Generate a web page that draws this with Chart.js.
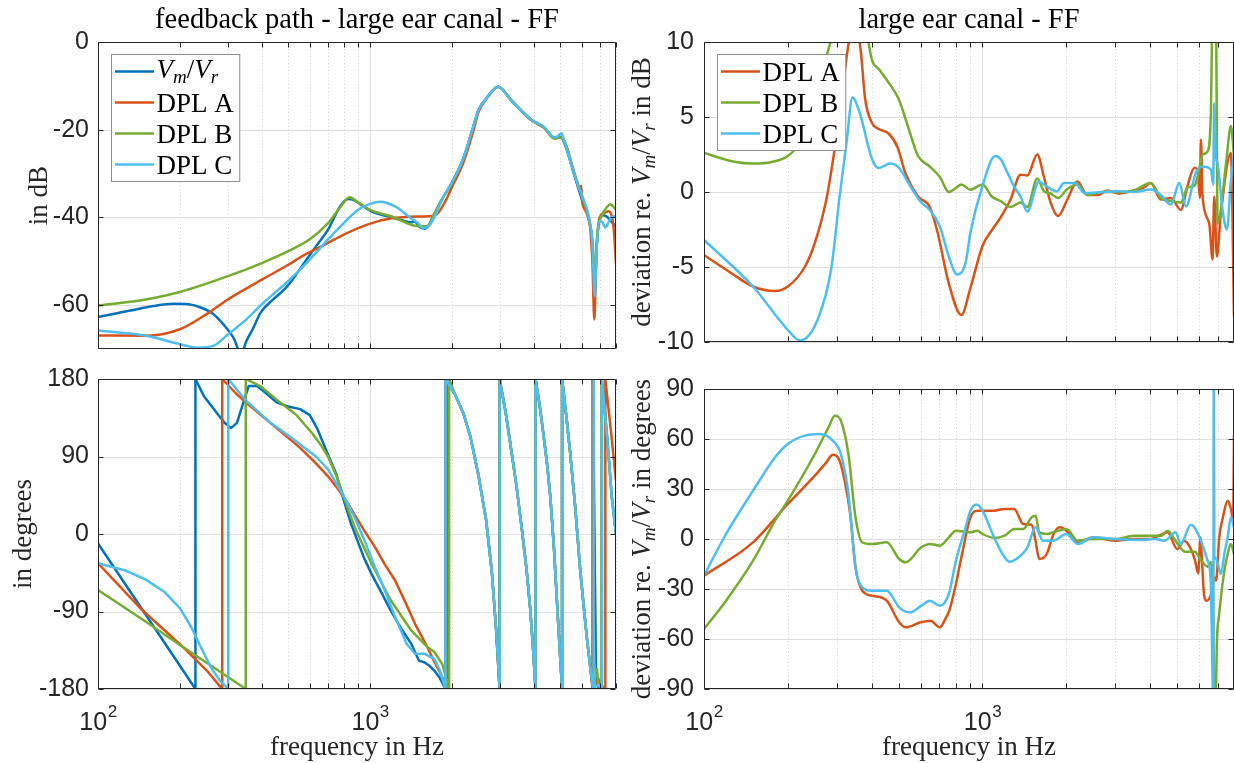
<!DOCTYPE html>
<html>
<head>
<meta charset="utf-8">
<script src="https://cdn.jsdelivr.net/npm/chart.js@4.4.1/dist/chart.umd.min.js"></script>
<style>
  html, body { margin: 0; padding: 0; background: #ffffff; }
  #figure { position: relative; width: 1234px; height: 763px; overflow: hidden; background: #ffffff; }
  #figure canvas { position: absolute; left: 0; top: 0; }
</style>
</head>
<body>
<div id="figure">
  <canvas id="magChart" width="1234" height="763"></canvas>
  <canvas id="phaseChart" width="1234" height="763"></canvas>
  <canvas id="devMagChart" width="1234" height="763"></canvas>
  <canvas id="devPhaseChart" width="1234" height="763"></canvas>
</div>
<script>
// ---------- frequency axis ----------
const freqMin = 100;
const freqMax = 8000;
const freqTicks = [100, 200, 300, 400, 500, 600, 700, 800, 900, 1000, 2000, 3000, 4000, 5000, 6000, 7000, 8000];
const freqDecades = [100, 1000];

// ---------- y ticks ----------
const magTicks = [-60, -40, -20, 0];
const phaseTicks = [-180, -90, 0, 90, 180];
const devMagTicks = [-10, -5, 0, 5, 10];
const devPhaseTicks = [-90, -60, -30, 0, 30, 60, 90];

// ---------- feedback path magnitude, dB  [frequency Hz, level] ----------
const magVmVr = [[100,-62.7],[130,-61.3],[160,-60.2],[190,-59.7],[215,-59.8],[240,-60.6],[265,-62],[290,-64.5],[315,-67.5],[335,-71],[352,-68],[370,-65.5],[396,-61.7],[440,-58.7],[484,-56.4],[518,-54.2],[572,-50.4],[632,-46.6],[700,-42.8],[775,-37.5],[830,-35.8],[875,-36.1],[915,-36.9],[1010,-38.6],[1100,-39.4],[1200,-40],[1300,-40.6],[1415,-41.1],[1460,-41],[1510,-42],[1580,-42.6],[1640,-41.8],[1710,-39.5],[1850,-35.5],[2000,-32],[2200,-26.5],[2400,-19],[2500,-15.5],[2700,-12.5],[2950,-10.2],[3300,-13.3],[3900,-17.7],[4150,-18.8],[4350,-19.5],[4750,-21.8],[5000,-21.6],[5200,-23.5],[5600,-30],[6000,-36],[6350,-40.5],[6550,-46],[6680,-58],[6800,-46],[6970,-40.5],[7150,-39.5],[7400,-39.8],[7700,-41],[8000,-42]];
const magDplA = [[100,-66.9],[150,-67],[200,-65.5],[250,-62.1],[300,-58.7],[400,-54.2],[500,-50.8],[550,-49.2],[700,-45.8],[800,-43.9],[1000,-41.4],[1200,-40.2],[1500,-39.8],[1710,-39.6],[1800,-38.5],[1900,-36],[2000,-33],[2200,-27.5],[2400,-20],[2500,-16],[2700,-12.6],[2950,-10.2],[3300,-13.3],[3900,-17.8],[4350,-19.5],[4750,-22],[5000,-21.8],[5200,-23],[5600,-29.5],[5900,-33.8],[5960,-32.8],[6010,-36.5],[6350,-40],[6550,-50],[6660,-63.3],[6780,-48],[6970,-40],[7250,-39],[7500,-38.6],[7850,-42.7],[8000,-50.5]];
const magDplB = [[100,-60.1],[150,-58.7],[200,-57],[300,-53.4],[400,-50.4],[500,-47.7],[600,-45],[700,-41.3],[780,-37.5],[840,-35.4],[900,-36.5],[1000,-38.3],[1200,-39.8],[1500,-42],[1620,-42],[1710,-39.5],[1850,-35.5],[2000,-32],[2200,-26.5],[2400,-19],[2500,-15.5],[2700,-12.5],[2950,-10.2],[3300,-13.3],[3900,-17.7],[4350,-19.5],[4750,-22],[5000,-21.8],[5200,-23],[5600,-29.5],[6000,-35],[6350,-40],[6550,-45],[6690,-52],[6850,-43],[7100,-39.5],[7400,-37.7],[7620,-37],[8000,-38.2]];
const magDplC = [[100,-65.8],[150,-67],[200,-68.9],[233,-69.7],[265,-69.3],[300,-66.7],[350,-63.3],[400,-59.8],[500,-54.5],[600,-49.6],[700,-45],[800,-41.3],[900,-38.3],[1000,-36.9],[1090,-36.4],[1235,-37.5],[1400,-40],[1500,-41.3],[1560,-42.4],[1640,-42],[1720,-40],[1850,-35.5],[2000,-32],[2200,-26.5],[2400,-19],[2500,-15.5],[2700,-12.5],[2950,-10.2],[3300,-13.3],[3900,-17.7],[4350,-19.3],[4750,-21.8],[4900,-21.4],[5040,-20.8],[5150,-22.3],[5600,-29.8],[6000,-35.2],[6350,-39.7],[6550,-46],[6680,-58],[6800,-47],[6970,-40.8],[7150,-41.2],[7310,-42.3],[7550,-40.8],[7850,-39.7],[8000,-40]];

// ---------- feedback path phase, degrees (wrapped to +-180) ----------
const phaseVmVrLow = [[100,-11],[150,-94],[200,-153],[228,-180],[228,180],[245,160],[265,146],[290,130],[308,123],[324,129],[340,150],[358,172],[383,172],[420,162],[453,153],[500,148],[553,145],[600,138],[640,122],[700,92],[750,70],[800,39],[850,12],[886,-3],[950,-28],[1010,-46],[1100,-68],[1190,-89],[1300,-110],[1415,-127.5],[1510,-147],[1580,-149],[1650,-153],[1720,-158.6],[1800,-167],[1892,-180],[1892,180]];
const phaseDplALow = [[100,-34],[145,-88],[200,-128],[250,-158],[286,-180],[286,180],[324,162],[384,142],[453,123],[553,100],[632,82],[700,67],[750,55],[820,38],[886,20],[960,2],[1040,-15],[1130,-35],[1235,-54],[1350,-80],[1460,-104],[1540,-118],[1620,-131],[1700,-145],[1790,-158.6],[1860,-170],[1920,-180],[1920,180]];
const phaseDplBLow = [[100,-65],[150,-102],[200,-128.8],[250,-149.3],[300,-166],[349,-180],[349,180],[396,171.5],[453,156],[535,138.5],[612,117],[660,103],[700,90],[750,68],[800,43],[840,24],[886,4.5],[1010,-34],[1190,-77],[1415,-112],[1620,-131],[1720,-137],[1840,-151],[1950,-180],[1950,180]];
const phaseDplCLow = [[100,-34],[125,-42],[150,-53],[175,-67],[200,-86],[220,-108],[240,-133],[260,-155],[280,-170],[301,-180],[301,180],[347,156],[424,130.7],[518,111],[632,90],[700,75],[750,59],[820,38],[886,16],[960,-10],[1040,-38],[1140,-68],[1235,-96.5],[1360,-127.5],[1460,-139],[1580,-139],[1720,-145],[1800,-158],[1892,-180],[1892,180]];
const phaseCommonMid = [[2050,162],[2200,140],[2335,113],[2500,68],[2667,16],[2800,-45],[2900,-110],[2990,-180],[2990,180],[3150,140],[3300,97],[3450,55],[3600,8],[3750,-40],[3870,-86],[3960,-130],[4050,-180],[4050,180],[4200,148],[4340,113],[4470,80],[4590,43],[4730,-15],[4860,-81],[4960,-130],[5070,-180],[5070,180],[5250,138],[5430,94],[5670,30],[5910,-42],[6080,-82],[6250,-120],[6420,-152]];
const phaseVmVrHigh = [[6580,-180],[6580,180],[6690,-40],[6760,-170],[6900,-178],[7100,-180],[7100,180],[7420,113],[7720,43],[8000,0]];
const phaseDplAHigh = [[6560,-180],[6560,180],[6600,-20],[6640,-178],[6800,-172],[6900,-168],[7000,-175],[7310,-180],[7310,180],[7650,122],[8000,62]];
const phaseDplBHigh = [[6580,-178],[6650,-170],[6720,-163],[6810,-157],[6880,-175],[7080,-180],[7080,180],[7420,113],[7720,43],[8000,0]];
const phaseDplCHigh = [[6600,-180],[6600,180],[6640,-100],[6680,-178],[6900,-175],[7100,-180],[7100,180],[7420,113],[7720,43],[8000,0]];

// ---------- deviation re. Vm/Vr, dB ----------
const devMagA = [[100,-4.2],[125,-5.4],[150,-6.3],[180,-6.6],[200,-6.3],[230,-5],[250,-3.4],[275,-0.5],[300,3.9],[320,8],[335,10.5],[350,11],[365,9.5],[379,6.2],[401,4.6],[424,4.2],[460,3.9],[495,3.0],[530,1.2],[587,-0.3],[647,-1.0],[690,-2.7],[757,-6.1],[840,-8.2],[905,-6.4],[1000,-3.6],[1085,-2.5],[1161,-1.7],[1261,-0.5],[1370,1.15],[1448,1.1],[1573,2.5],[1662,1.0],[1756,-0.7],[1866,-1.6],[2017,-0.5],[2191,0.7],[2380,-0.2],[2600,-0.2],[2800,0.1],[3100,-0.1],[3500,0.1],[3800,0.3],[4022,0.6],[4369,-0.5],[4748,-0.4],[5155,-1.2],[5447,0.4],[5757,1.6],[5919,1.5],[6034,-0.4],[6085,3.5],[6169,-0.3],[6518,-2.1],[6700,-4.5],[6793,-0.3],[6944,-4.3],[7178,-1.4],[7800,2.6],[8000,-8.3]];
const devMagB = [[100,2.6],[130,2.0],[150,1.9],[175,2.0],[200,2.4],[221,3.3],[245,5.5],[270,8.5],[290,10.5],[320,13],[355,13],[385,10.5],[401,8.8],[424,8.2],[460,7.3],[500,6.2],[550,3.9],[587,2.4],[647,1.7],[703,1.0],[757,0],[803,0.27],[840,0.5],[905,0.15],[1000,0.5],[1080,-0.3],[1161,-0.6],[1261,-1.0],[1370,-0.7],[1448,-1.0],[1573,0.9],[1662,0.05],[1756,-0.1],[1866,-0.4],[2017,0.2],[2191,0.5],[2380,-0.2],[2700,0],[3100,0],[3500,0.1],[4022,0.6],[4369,-0.4],[4748,-0.6],[5155,-0.7],[5447,0.3],[5757,0.4],[5919,1.0],[6169,2.5],[6429,2.7],[6608,5.3],[6700,12],[6887,12],[6983,-2.1],[7178,-1.2],[7500,2.0],[7800,4.4],[8000,2.4]];
const devMagC = [[100,-3.2],[150,-6.3],[200,-9.2],[221,-9.9],[256,-8.5],[287,-5],[306,-0.5],[326,3.5],[341,6.3],[362,5.3],[401,2.2],[424,1.6],[467,1.9],[502,1.6],[550,0.4],[603,-0.7],[647,-1.2],[703,-2.3],[757,-4.3],[810,-5.5],[870,-4.7],[905,-2.7],[1000,0.4],[1110,2.4],[1161,2.2],[1228,1.3],[1296,0.4],[1370,-0.3],[1448,-1.3],[1595,0.7],[1690,0.4],[1850,0.04],[1960,0.6],[2140,0.6],[2330,-0.07],[2700,0],[3100,0.05],[3500,0],[4022,0.16],[4369,-0.2],[4748,-0.84],[5090,0.6],[5380,-0.96],[5840,1.3],[6169,1.7],[6608,1.5],[6737,0.5],[6793,5.9],[6887,2.4],[6983,1.9],[7278,-1.2],[7544,-2.5],[7800,0.8],[8000,2.4]];

// ---------- deviation re. Vm/Vr, degrees ----------
const devPhaseA = [[100,-22],[150,-2],[200,21],[250,38],[275,46],[290,50.5],[305,48],[320,35],[335,15],[350,-17],[370,-31],[401,-34],[453,-37],[502,-50],[530,-53],[600,-50],[650,-49],[703,-53],[740,-47],[760,-43],[803,-27],[840,-11],[905,13],[960,17],[1100,17],[1200,18],[1300,18],[1400,9],[1500,8.6],[1550,-1],[1600,-12],[1700,-9],[1800,3],[1900,7],[2000,5],[2200,-2],[2500,1],[3000,-1],[3500,0],[4000,0],[4300,2],[4620,4],[5000,-6],[5300,-1],[5600,-6],[5800,-13],[5950,-20.7],[6060,1],[6150,-15],[6240,-33],[6380,-37],[6620,-33],[6780,-23],[6900,-25],[7080,1],[7300,13],[7590,23],[7800,18],[7950,11],[8000,62]];
const devPhaseB = [[100,-54],[120,-37],[150,-13],[180,11],[200,23],[250,51],[280,67],[295,74],[310,71],[330,51],[350,13],[370,-2],[401,-3],[453,-2],[502,-12],[530,-14],[603,-5],[647,-3],[703,-4],[757,1],[803,5],[905,4],[960,5],[1000,3],[1110,0.6],[1200,2],[1300,6],[1400,6],[1500,13],[1550,14],[1600,4],[1700,3],[1800,4],[2000,6],[2200,-1],[2500,0],[3000,0],[3500,2],[4000,2],[4400,2],[4620,5],[4930,-1],[5350,-7.7],[5780,-7.7],[6090,-12.6],[6430,-16.6],[6600,-14],[6700,-25],[6800,-92],[6880,-92],[6950,-60],[7080,-45],[7300,-25],[7590,-9],[7800,-3],[8000,-9]];
const devPhaseC = [[100,-22],[120,3],[150,29],[180,49],[200,57],[230,62],[260,63],[290,59],[310,51],[330,27],[350,-17],[370,-29],[401,-31],[453,-31],[502,-41],[550,-44],[603,-40],[647,-37],[703,-40],[757,-33],[803,-13],[870,7],[905,17],[950,20.7],[1000,17],[1100,1],[1200,-11],[1250,-13.7],[1350,-11],[1450,-5],[1550,7],[1650,-1],[1800,-1],[2000,3],[2200,-3],[2500,1],[3000,0],[3700,-0.6],[4150,0],[4500,-1],[4940,4],[5150,-3],[5600,8.6],[5910,4],[6430,-13],[6600,-25],[6740,-95],[6770,95],[6800,-10],[6900,-12],[7180,-21],[7400,-8],[7590,1],[7800,13],[8000,7]];

// ---------- series names and colours ----------
const seriesNames = ['Vm/Vr', 'DPL A', 'DPL B', 'DPL C'];
const seriesColors = ['#0072BD', '#D95319', '#77AC30', '#4DBEEE'];
const ratioLabel = [['V', 'i'], ['m', 'is'], ['/', ''], ['V', 'i'], ['r', 'is']];

// ---------- text helpers ----------
const SERIF = '"Liberation Serif", "Times New Roman", serif';
const SANS = '"Liberation Sans", Arial, Helvetica, sans-serif';
const INK = '#262626';
const TEXT_PX = 27;
const TITLE_PX = 28.5;
const TICK_PX = 25;

function segFont(style, size) {
  const sub = style.indexOf('s') >= 0;
  return (style.indexOf('i') >= 0 ? 'italic ' : '') + (sub ? Math.round(size * 0.7) : size) + 'px ' + SERIF;
}
function richWidth(ctx, segs, size) {
  let w = 0;
  for (const [t, st] of segs) { ctx.font = segFont(st, size); w += ctx.measureText(t).width; }
  return w;
}
function drawRich(ctx, segs, size, x, baseY, align) {
  const w = richWidth(ctx, segs, size);
  let cx = align === 'center' ? x - w / 2 : x;
  ctx.textAlign = 'left';
  ctx.textBaseline = 'alphabetic';
  for (const [t, st] of segs) {
    ctx.font = segFont(st, size);
    ctx.fillText(t, cx, baseY + (st.indexOf('s') >= 0 ? size * 0.2 : 0));
    cx += ctx.measureText(t).width;
  }
}

// ---------- MATLAB-style axes: grid, box, inward ticks, legend, labels ----------
const matlabAxes = {
  id: 'matlabAxes',
  beforeDatasetsDraw(chart, _args, o) {
    const { ctx, chartArea: a } = chart;
    const xs = chart.scales.x, ys = chart.scales.y;
    ctx.save();
    ctx.lineWidth = 1;
    // minor frequency grid (dotted)
    ctx.strokeStyle = '#d2d2d2';
    ctx.setLineDash([1, 2.5]);
    ctx.beginPath();
    freqTicks.filter(f => !freqDecades.includes(f)).forEach(f => {
      const px = Math.round(xs.getPixelForValue(f)) + 0.5;
      ctx.moveTo(px, a.top); ctx.lineTo(px, a.bottom);
    });
    ctx.stroke();
    // major grid
    ctx.setLineDash([]);
    ctx.strokeStyle = '#dfdfdf';
    ctx.beginPath();
    freqDecades.forEach(f => {
      const px = Math.round(xs.getPixelForValue(f)) + 0.5;
      ctx.moveTo(px, a.top); ctx.lineTo(px, a.bottom);
    });
    ys.ticks.forEach(t => {
      const py = Math.round(ys.getPixelForValue(t.value)) + 0.5;
      ctx.moveTo(a.left, py); ctx.lineTo(a.right, py);
    });
    ctx.stroke();
    ctx.restore();
  },
  afterDatasetsDraw(chart, _args, o) {
    const { ctx, chartArea: a } = chart;
    const xs = chart.scales.x, ys = chart.scales.y;
    const L = a.left + 0.5, R = a.right - 0.5, T = a.top + 0.5, B = a.bottom - 0.5;
    const tl = 5;
    ctx.save();
    ctx.strokeStyle = INK;
    ctx.lineWidth = 1;
    ctx.beginPath();
    ctx.rect(L, T, R - L, B - T);
    freqTicks.forEach(f => {
      const px = Math.round(xs.getPixelForValue(f)) + 0.5;
      ctx.moveTo(px, B); ctx.lineTo(px, B - tl);
      ctx.moveTo(px, T); ctx.lineTo(px, T + tl);
    });
    ys.ticks.forEach(t => {
      const py = Math.round(ys.getPixelForValue(t.value)) + 0.5;
      ctx.moveTo(L, py); ctx.lineTo(L + tl, py);
      ctx.moveTo(R, py); ctx.lineTo(R - tl, py);
    });
    ctx.stroke();

    // legend inside the upper-left corner of the axes
    if (o.legend) {
      const sets = chart.data.datasets;
      const rowH = 31, lineLen = 39;
      let textW = 0;
      sets.forEach(d => { textW = Math.max(textW, richWidth(ctx, d.richLabel || [[d.label, '']], TEXT_PX)); });
      const bx = Math.round(a.left + 13) + 0.5, by = Math.round(a.top + 12) + 0.5;
      const bw = 3.5 + lineLen + 2.5 + textW + 6;
      const bh = 17 + (sets.length - 1) * rowH + 17;
      ctx.fillStyle = '#ffffff';
      ctx.fillRect(bx, by, bw, bh);
      ctx.strokeStyle = '#8f8f8f';
      ctx.strokeRect(bx, by, bw, bh);
      sets.forEach((d, i) => {
        const cy = by + 17 + i * rowH;
        ctx.strokeStyle = d.borderColor;
        ctx.lineWidth = d.borderWidth;
        ctx.beginPath();
        ctx.moveTo(bx + 3.5, cy); ctx.lineTo(bx + 3.5 + lineLen, cy);
        ctx.stroke();
        ctx.fillStyle = '#000000';
        const segs = d.richLabel || [[d.label, '']];
        drawRich(ctx, segs, TEXT_PX, bx + 3.5 + lineLen + 2.5, cy + 9 - (d.richLabel ? 3 : 0), 'left');
      });
    }
    ctx.restore();
  },
  afterDraw(chart, _args, o) {
    const { ctx, chartArea: a } = chart;
    const xs = chart.scales.x;
    const cx = (a.left + a.right) / 2;
    const cyMid = (a.top + a.bottom) / 2;
    ctx.save();
    // title
    if (o.title) {
      ctx.fillStyle = '#000000';
      drawRich(ctx, [[o.title, '']], TITLE_PX, cx, a.top - 14, 'center');
    }
    // decade tick labels 10^n
    if (o.xTickLabels) {
      ctx.fillStyle = INK;
      freqDecades.forEach(f => {
        const px = xs.getPixelForValue(f);
        const base = '10', sup = String(Math.round(Math.log10(f)));
        ctx.font = TICK_PX + 'px ' + SANS;
        const wb = ctx.measureText(base).width;
        ctx.font = '17px ' + SANS;
        const ws = ctx.measureText(sup).width;
        const x0 = px - (wb + ws) / 2;
        ctx.textAlign = 'left'; ctx.textBaseline = 'alphabetic';
        ctx.font = TICK_PX + 'px ' + SANS;
        ctx.fillText(base, x0, a.bottom + 41);
        ctx.font = '17px ' + SANS;
        ctx.fillText(sup, x0 + wb + 0.5, a.bottom + 28);
      });
    }
    // x label
    if (o.xLabel) {
      ctx.fillStyle = INK;
      drawRich(ctx, [[o.xLabel, '']], TEXT_PX, cx, a.bottom + 66, 'center');
    }
    // y label, rotated
    if (o.yLabel) {
      ctx.fillStyle = INK;
      ctx.translate(o.yLabelX, cyMid);
      ctx.rotate(-Math.PI / 2);
      drawRich(ctx, o.yLabel, TEXT_PX, 0, 0, 'center');
    }
    ctx.restore();
  }
};

// ---------- chart factory ----------
function buildChart(id, cfg) {
  const W = 1234, H = 763, yAxisW = 60, xAxisH = 10;
  const datasets = cfg.series.map(s => ({
    label: s.name,
    richLabel: s.rich || null,
    data: s.points.map(([f, v]) => ({ x: f, y: v })),
    borderColor: s.color,
    backgroundColor: s.color,
    borderWidth: 2.5,
    pointRadius: 0,
    pointHoverRadius: 0,
    fill: false,
    tension: cfg.smooth ? 0.4 : 0,
    cubicInterpolationMode: cfg.smooth ? 'monotone' : 'default',
    borderJoinStyle: 'round',
    borderCapStyle: 'round',
    order: s.order
  }));
  return new Chart(document.getElementById(id), {
    type: 'line',
    data: { datasets },
    options: {
      responsive: false,
      animation: false,
      devicePixelRatio: 1,
      events: [],
      layout: {
        autoPadding: false,
        padding: {
          left: cfg.box.left - yAxisW,
          top: cfg.box.top,
          right: W - cfg.box.right,
          bottom: H - cfg.box.bottom - xAxisH
        }
      },
      plugins: {
        legend: { display: false },
        tooltip: { enabled: false },
        matlabAxes: cfg.axes
      },
      scales: {
        x: {
          type: 'logarithmic',
          min: freqMin,
          max: freqMax,
          grid: { display: false, drawTicks: false },
          border: { display: false },
          ticks: { display: false },
          afterBuildTicks: s => { s.ticks = freqTicks.map(v => ({ value: v })); },
          afterFit: s => { s.height = xAxisH; }
        },
        y: {
          type: 'linear',
          min: cfg.yMin,
          max: cfg.yMax,
          grid: { display: false, drawTicks: false },
          border: { display: false },
          ticks: {
            autoSkip: false,
            padding: cfg.tickPad,
            color: INK,
            font: { family: SANS, size: TICK_PX },
            callback: v => String(v)
          },
          afterBuildTicks: s => { s.ticks = cfg.yTicks.map(v => ({ value: v })); },
          afterFit: s => { s.width = yAxisW; }
        }
      }
    },
    plugins: [matlabAxes]
  });
}

function fourSeries(blue, orange, green, cyan) {
  return [
    { name: seriesNames[0], rich: ratioLabel, color: seriesColors[0], points: blue, order: 3 },
    { name: seriesNames[1], color: seriesColors[1], points: orange, order: 2 },
    { name: seriesNames[2], color: seriesColors[2], points: green, order: 1 },
    { name: seriesNames[3], color: seriesColors[3], points: cyan, order: 0 }
  ];
}
function threeSeries(orange, green, cyan) {
  return [
    { name: seriesNames[1], color: seriesColors[1], points: orange, order: 2 },
    { name: seriesNames[2], color: seriesColors[2], points: green, order: 1 },
    { name: seriesNames[3], color: seriesColors[3], points: cyan, order: 0 }
  ];
}

const devLabel = (unit) => [['deviation re. ', ''], ...ratioLabel, [' in ' + unit, '']];

// feedback path magnitude
buildChart('magChart', {
  box: { left: 98, top: 42, right: 616, bottom: 349 },
  yMin: -70, yMax: 0, yTicks: magTicks, tickPad: 9, smooth: true,
  series: fourSeries(magVmVr, magDplA, magDplB, magDplC),
  axes: { title: 'feedback path - large ear canal - FF', yLabel: [['in dB', '']], yLabelX: 47, legend: true }
});

// feedback path phase
buildChart('phaseChart', {
  box: { left: 98, top: 379, right: 616, bottom: 689 },
  yMin: -180, yMax: 180, yTicks: phaseTicks, tickPad: 9, smooth: false,
  series: fourSeries(
    [...phaseVmVrLow, ...phaseCommonMid, ...phaseVmVrHigh],
    [...phaseDplALow, ...phaseCommonMid, ...phaseDplAHigh],
    [...phaseDplBLow, ...phaseCommonMid, ...phaseDplBHigh],
    [...phaseDplCLow, ...phaseCommonMid, ...phaseDplCHigh]
  ),
  axes: { yLabel: [['in degrees', '']], yLabelX: 31, xLabel: 'frequency in Hz', xTickLabels: true }
});

// deviation, dB
buildChart('devMagChart', {
  box: { left: 704, top: 42, right: 1234, bottom: 342 },
  yMin: -10, yMax: 10, yTicks: devMagTicks, tickPad: 10, smooth: true,
  series: threeSeries(devMagA, devMagB, devMagC),
  axes: { title: 'large ear canal - FF', yLabel: devLabel('dB'), yLabelX: 650, legend: true }
});

// deviation, degrees
buildChart('devPhaseChart', {
  box: { left: 704, top: 389, right: 1234, bottom: 689 },
  yMin: -90, yMax: 90, yTicks: devPhaseTicks, tickPad: 10, smooth: true,
  series: threeSeries(devPhaseA, devPhaseB, devPhaseC),
  axes: { yLabel: devLabel('degrees'), yLabelX: 650, xLabel: 'frequency in Hz', xTickLabels: true }
});
</script>
</body>
</html>
